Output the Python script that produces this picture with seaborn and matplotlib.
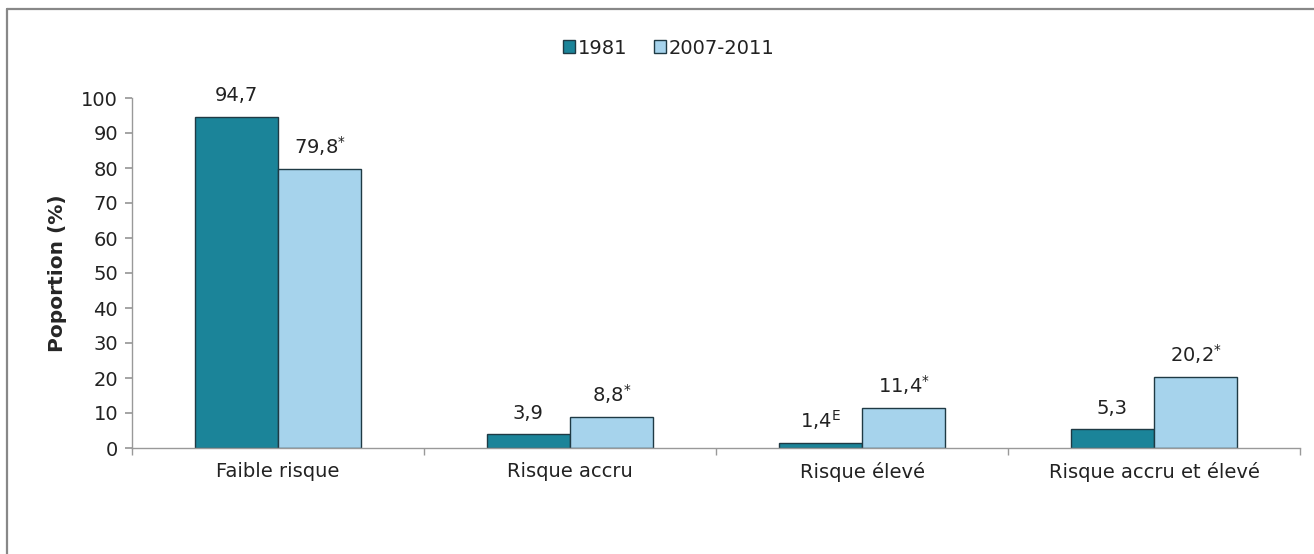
import matplotlib
matplotlib.use("Agg")
import matplotlib.pyplot as plt
import seaborn as sns
import pandas as pd
from matplotlib.lines import Line2D

categories = ["Faible risque", "Risque accru", "Risque élevé", "Risque accru et élevé"]
series_names = ["1981", "2007-2011"]
values_1981 = [94.7, 3.9, 1.4, 5.3]
values_2007 = [79.8, 8.8, 11.4, 20.2]
labels_1981 = ["94,7", "3,9", "1,4$^{\\mathregular{E}}$", "5,3"]
labels_2007 = ["79,8$^{\\mathregular{*}}$", "8,8$^{\\mathregular{*}}$", "11,4$^{\\mathregular{*}}$", "20,2$^{\\mathregular{*}}$"]
yticks = [0, 10, 20, 30, 40, 50, 60, 70, 80, 90, 100]

sns.set_theme(style="white")
plt.rcParams["font.family"] = ["DejaVu Sans"]
plt.rcParams["mathtext.default"] = "regular"

FS = 14

df = pd.DataFrame({
    "cat": categories * 2,
    "serie": [series_names[0]] * 4 + [series_names[1]] * 4,
    "val": values_1981 + values_2007,
})

fig = plt.figure(figsize=(13.14, 5.54), dpi=100)
ax = fig.add_axes([132 / 1314, 1 - 448 / 554, (1300 - 132) / 1314, 350 / 554])

palette = {"1981": "#1b8499", "2007-2011": "#a6d3ec"}
sns.barplot(data=df, x="cat", y="val", hue="serie", palette=palette,
            width=0.57, edgecolor="#1f3a44", linewidth=1.0, ax=ax,
            saturation=1, legend=True)

ax.set_ylim(0, 100)
ax.set_xlim(-0.5, 3.5)
ax.set_yticks(yticks)
ax.set_yticklabels([str(t) for t in yticks], fontsize=FS, color="#222222")
ax.set_xticks(range(4))
ax.set_xticklabels(categories, fontsize=FS, color="#222222")
ax.set_xticks([-0.5, 0.5, 1.5, 2.5, 3.5], minor=True)
ax.tick_params(axis="x", which="major", length=0, pad=10)
ax.tick_params(axis="x", which="minor", length=5, color="#999999", direction="out", bottom=True)
ax.tick_params(axis="y", length=5, color="#999999", direction="out", left=True, pad=5)
ax.set_xlabel("")
ax.set_ylabel("Poportion (%)", fontsize=14.5, fontweight="bold", labelpad=10)

for s in ["top", "right"]:
    ax.spines[s].set_visible(False)
for s in ["left", "bottom"]:
    ax.spines[s].set_color("#999999")
    ax.spines[s].set_linewidth(1.0)

for container, labs in zip(ax.containers, [labels_1981, labels_2007]):
    ax.bar_label(container, labels=labs, padding=8, fontsize=FS, color="#222222")

leg = ax.legend(loc="center", bbox_to_anchor=((669 - 132) / 1168, 1 + 50 / 350), ncol=2,
                frameon=False, fontsize=FS, handlelength=0.6, handleheight=0.6,
                handletextpad=0.15, columnspacing=1.4)
for t in leg.get_texts():
    t.set_color("#222222")

fig.add_artist(Line2D([7 / 1314, 1], [1 - 9 / 554, 1 - 9 / 554], color="#888888", lw=1.6,
                      transform=fig.transFigure))
fig.add_artist(Line2D([7 / 1314, 7 / 1314], [0, 1 - 9 / 554], color="#888888", lw=1.6,
                      transform=fig.transFigure))

fig.savefig("out.png", dpi=100)
